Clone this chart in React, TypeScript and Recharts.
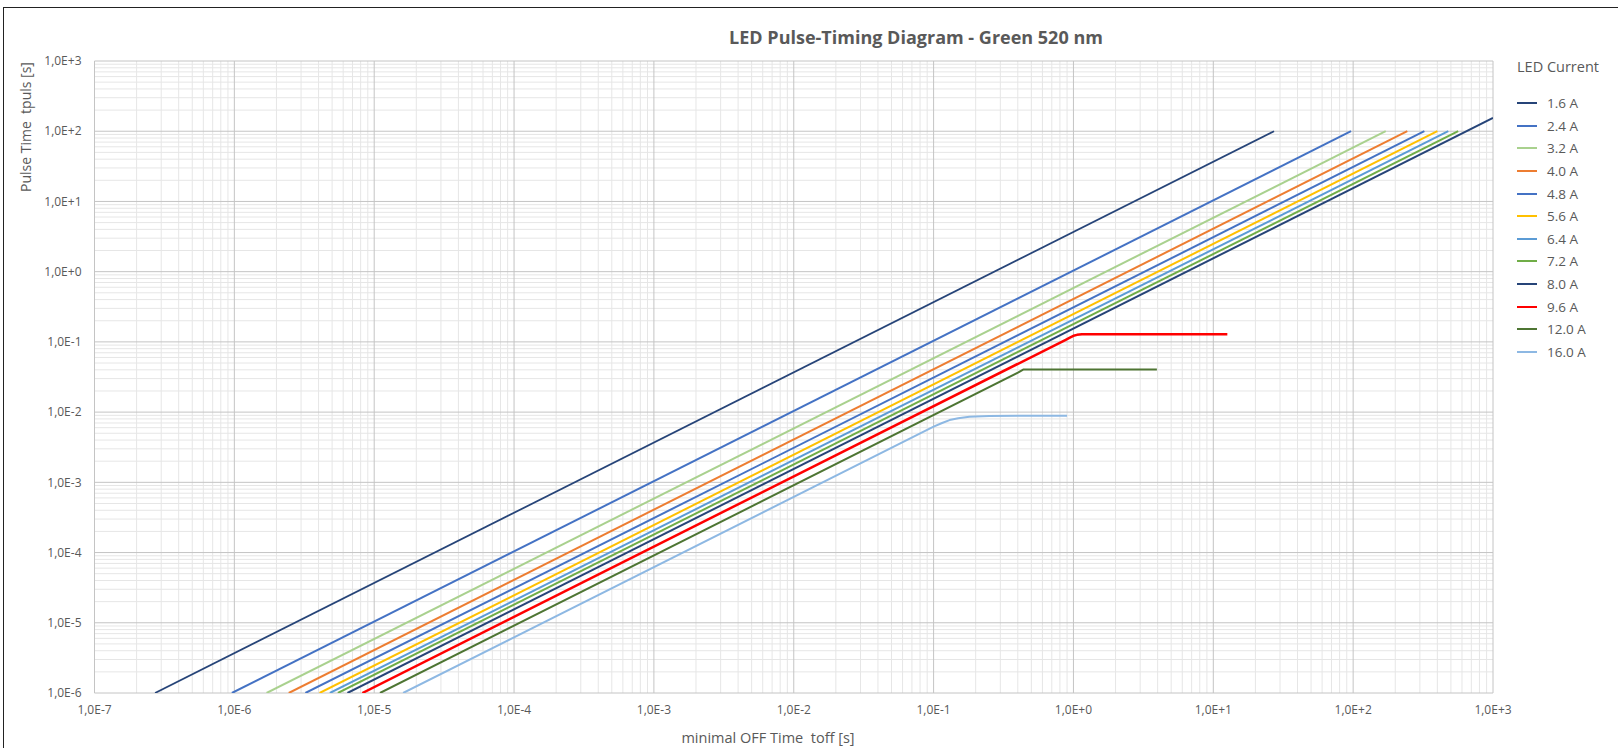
import { CartesianGrid, Line, LineChart, XAxis, YAxis } from "recharts";

const TEXT = "#595959";
const FONT = "'Open Sans', 'Noto Sans', sans-serif";

// decade ticks (log axes)
const X_TICKS = [1e-7, 1e-6, 1e-5, 1e-4, 1e-3, 1e-2, 1e-1, 1e0, 1e1, 1e2, 1e3];
const Y_TICKS = [1e-6, 1e-5, 1e-4, 1e-3, 1e-2, 1e-1, 1e0, 1e1, 1e2, 1e3];
const MINOR = [2, 3, 4, 5, 6, 7, 8, 9];

const CURRENTS = ["1.6 A", "2.4 A", "3.2 A", "4.0 A", "4.8 A", "5.6 A", "6.4 A", "7.2 A", "8.0 A", "9.6 A", "12.0 A", "16.0 A"];
const COLORS = ["#264478", "#4472C4", "#A9D18E", "#ED7D31", "#4472C4", "#FFC000", "#5B9BD5", "#70AD47", "#264478", "#FF0000", "#4E7533", "#8DB8E3"];

// [toff, tpuls]
const A16 = [[2.71e-7, 1e-6], [27.2, 100]];
const A24 = [[9.6e-7, 1e-6], [96.6, 100]];
const A32 = [[1.7e-6, 1e-6], [171, 100]];
const A40 = [[2.45e-6, 1e-6], [244, 100]];
const A48 = [[3.22e-6, 1e-6], [323, 100]];
const A56 = [[4.07e-6, 1e-6], [400, 100]];
const A64 = [[4.82e-6, 1e-6], [479, 100]];
const A72 = [[5.5e-6, 1e-6], [564, 100]];
const A80 = [[6.44e-6, 1e-6], [1000, 155]];
const A96 = [[8.23e-6, 1e-6], [0.88, 0.107], [0.95, 0.116], [1.0, 0.122], [1.06, 0.126], [1.15, 0.128], [12.6, 0.128]];
const A120 = [[1.1e-5, 1e-6], [0.404, 0.0367], [0.44, 0.0405], [3.95, 0.0405]];
const A160 = [[1.61e-5, 1e-6], [0.1, 0.0062], [0.115, 0.007], [0.13, 0.0077], [0.15, 0.0082], [0.18, 0.0086], [0.25, 0.0088], [0.5, 0.0089], [0.9, 0.0089]];

const SERIES = [A16, A24, A32, A40, A48, A56, A64, A72, A80, A96, A120, A160];

const minorOf = (decades: number[]) =>
  decades.slice(0, -1).flatMap((d) => MINOR.map((m) => d * m));

const fmtExp = (v: number) => {
  const e = Math.round(Math.log10(v));
  return `1,0E${e < 0 ? "-" : "+"}${Math.abs(e)}`;
};

function LegendBox() {
  return (
    <div style={{ position: "absolute", left: 1517, top: 56, color: TEXT, fontFamily: FONT }}>
      <div style={{ fontSize: 14.5, height: 22, lineHeight: "22px", marginBottom: 14 }}>LED Current</div>
      {CURRENTS.map((c, i) => (
        <div key={c} style={{ display: "flex", alignItems: "center", height: 22.6, fontSize: 13.5 }}>
          <svg width={20} height={4} style={{ marginRight: 10 }}>
            <line x1={0} y1={2} x2={20} y2={2} stroke={COLORS[i]} strokeWidth={2} />
          </svg>
          {c}
        </div>
      ))}
    </div>
  );
}

export default function App() {
  const tickStyle = { fill: TEXT, fontSize: 12, fontFamily: FONT };
  return (
    <div style={{ position: "absolute", left: 0, top: 0, width: 1618, height: 748, background: "#fff", fontFamily: FONT }}>
      <div
        style={{
          position: "absolute",
          left: 3,
          top: 7,
          width: 1620,
          height: 750,
          borderLeft: "1.5px solid #222",
          borderTop: "1.5px solid #222",
        }}
      />
      <div
        style={{
          position: "absolute",
          left: 0,
          width: 1832,
          top: 25,
          textAlign: "center",
          fontSize: 18,
          fontWeight: 700,
          color: TEXT,
        }}
      >
        LED Pulse-Timing Diagram - Green 520 nm
      </div>
      <div
        style={{
          position: "absolute",
          left: 25,
          top: 127,
          transform: "translate(-50%, -50%) rotate(-90deg)",
          whiteSpace: "pre",
          fontSize: 14,
          color: TEXT,
        }}
      >
        {"Pulse Time  tpuls [s]"}
      </div>
      <div
        style={{
          position: "absolute",
          left: 768,
          top: 737,
          transform: "translate(-50%, -50%)",
          whiteSpace: "pre",
          fontSize: 14.5,
          color: TEXT,
        }}
      >
        {"minimal OFF Time  toff [s]"}
      </div>
      <LineChart
        width={1618}
        height={748}
        margin={{ top: 61, right: 125, bottom: 25, left: 14.5 }}
        style={{ position: "absolute", left: 0, top: 0 }}
      >
        <CartesianGrid
          stroke="#e6e6e6"
          verticalValues={minorOf(X_TICKS)}
          horizontalValues={minorOf(Y_TICKS)}
        />
        <CartesianGrid stroke="#c4c4c4" />
        <XAxis
          type="number"
          dataKey="0"
          scale="log"
          domain={[1e-7, 1e3]}
          ticks={X_TICKS}
          allowDataOverflow
          tickFormatter={fmtExp}
          axisLine={false}
          tickLine={false}
          tickSize={0}
          tickMargin={12}
          height={30}
          tick={tickStyle}
          interval={0}
        />
        <YAxis
          type="number"
          dataKey="1"
          scale="log"
          domain={[1e-6, 1e3]}
          ticks={Y_TICKS}
          allowDataOverflow
          tickFormatter={fmtExp}
          axisLine={false}
          tickLine={false}
          tickSize={0}
          tickMargin={13}
          width={80}
          tick={tickStyle}
          interval={0}
        />
        {SERIES.map((s, i) => (
          <Line
            key={CURRENTS[i]}
            name={CURRENTS[i]}
            data={s}
            dataKey="1"
            type="linear"
            stroke={COLORS[i]}
            strokeWidth={i === 0 ? 1.75 : i === 9 ? 2.5 : 2}
            strokeLinejoin="round"
            dot={false}
            activeDot={false}
            isAnimationActive={false}
          />
        ))}
      </LineChart>
      <LegendBox />
    </div>
  );
}
